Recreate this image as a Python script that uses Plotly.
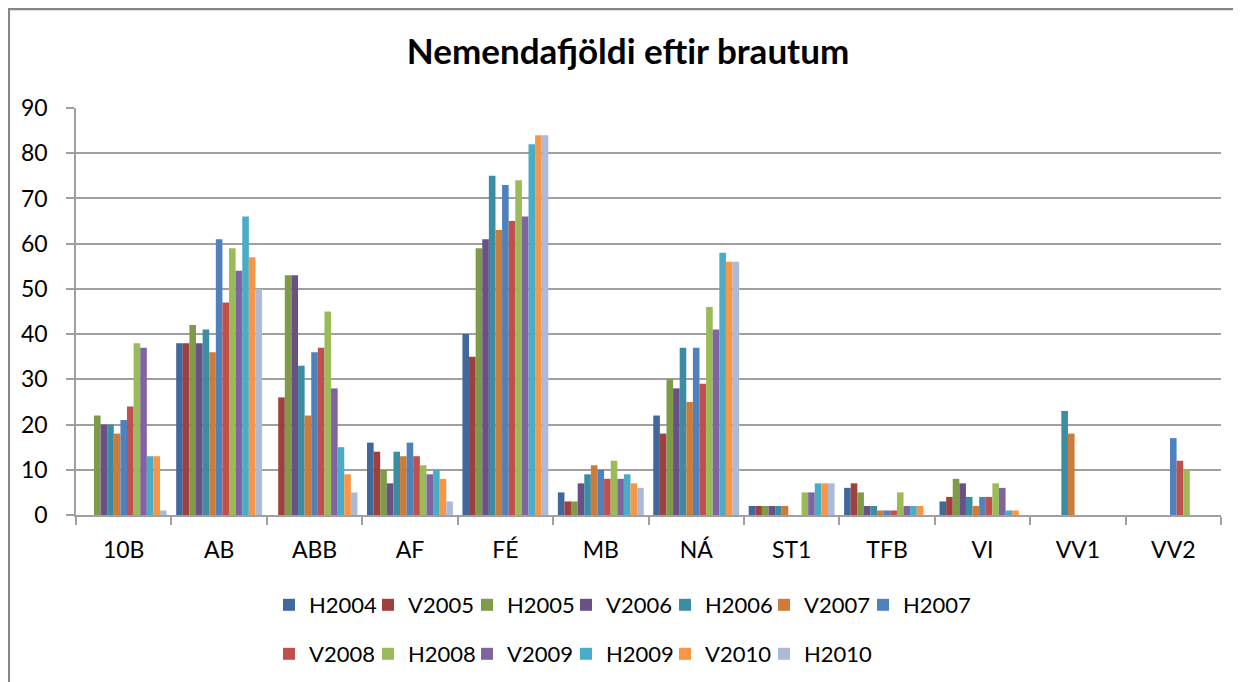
import plotly.graph_objects as go

categories = ["10B", "AB", "ABB", "AF", "FÉ", "MB", "NÁ", "ST1", "TFB", "VI", "VV1", "VV2"]

series_names = ["H2004", "V2005", "H2005", "V2006", "H2006", "V2007", "H2007",
                "V2008", "H2008", "V2009", "H2009", "V2010", "H2010"]

H2004 = [None, 38, None, 16, 40, 5, 22, 2, 6, 3, None, None]
V2005 = [None, 38, 26, 14, 35, 3, 18, 2, 7, 4, None, None]
H2005 = [22, 42, 53, 10, 59, 3, 30, 2, 5, 8, None, None]
V2006 = [20, 38, 53, 7, 61, 7, 28, 2, 2, 7, None, None]
H2006 = [20, 41, 33, 14, 75, 9, 37, 2, 2, 4, 23, None]
V2007 = [18, 36, 22, 13, 63, 11, 25, 2, 1, 2, 18, None]
H2007 = [21, 61, 36, 16, 73, 10, 37, None, 1, 4, None, 17]
V2008 = [24, 47, 37, 13, 65, 8, 29, None, 1, 4, None, 12]
H2008 = [38, 59, 45, 11, 74, 12, 46, 5, 5, 7, None, 10]
V2009 = [37, 54, 28, 9, 66, 8, 41, 5, 2, 6, None, None]
H2009 = [13, 66, 15, 10, 82, 9, 58, 7, 2, 1, None, None]
V2010 = [13, 57, 9, 8, 84, 7, 56, 7, 2, 1, None, None]
H2010 = [1, 50, 5, 3, 84, 6, 56, 7, None, None, None, None]

series_values = [H2004, V2005, H2005, V2006, H2006, V2007, H2007,
                 V2008, H2008, V2009, H2009, V2010, H2010]

colors = ["#41689B", "#9E413E", "#7F9A48", "#695185", "#3C8DA3", "#CC7B38", "#4F81BD",
          "#C0504D", "#9BBB59", "#8064A2", "#4BACC6", "#F79646", "#AABAD7"]

FONT = "Lato"

fig = go.Figure()
for i, (name, vals) in enumerate(zip(series_names, series_values)):
    fig.add_trace(go.Bar(
        x=categories, y=vals, name=name,
        marker=dict(color=colors[i], line=dict(width=0)),
        legend="legend" if i < 7 else "legend2",
    ))

# invisible spacer entries so the last legend label in each row is not clipped
for lg in ["legend", "legend2"]:
    fig.add_trace(go.Scatter(x=[None], y=[None], name=" ", mode="markers",
                             marker=dict(color="rgba(0,0,0,0)", size=1),
                             legend=lg, hoverinfo="skip", showlegend=True))

# page has an 8px body margin; figure is sized to fill the rest of the window
OFF = 8
W, H = 1241 - OFF, 682 - OFF
ml, mt = 76 - OFF, 108 - OFF
plot_right, plot_bottom = 1221 - OFF, 515 - OFF
mr, mb = W - plot_right, H - plot_bottom
pw, ph = W - ml - mr, H - mt - mb

def px_x(x):  # page x -> paper
    return (x - OFF - ml) / pw

def px_y(y):  # page y -> paper
    return (H - mb - (y - OFF)) / ph

fig.update_layout(
    width=W, height=H,
    margin=dict(l=ml, r=mr, t=mt, b=mb, autoexpand=False),
    paper_bgcolor="white", plot_bgcolor="white",
    font=dict(family=FONT, color="#000000", size=22),
    barmode="group", bargap=0.1, bargroupgap=0,
    title=dict(text="<b>Nemendafjöldi eftir brautum</b>",
               font=dict(family=FONT, size=35, color="#000000"),
               x=(628 - OFF) / W, xanchor="center", xref="container",
               y=1 - (52 - OFF) / H, yanchor="middle", yref="container"),
    xaxis=dict(showline=True, linecolor="#A0A0A0", linewidth=1.5,
               ticks="outside", tickson="boundaries", ticklen=8, tickcolor="#A0A0A0",
               tickwidth=1.5, ticklabelstandoff=14,
               tickfont=dict(family=FONT, size=23, color="#000000"),
               showgrid=False),
    yaxis=dict(range=[0, 90], dtick=10, showline=True, linecolor="#A0A0A0", linewidth=1.5,
               ticks="outside", ticklen=8, tickcolor="#A0A0A0", tickwidth=1.5,
               ticklabelstandoff=14,
               showgrid=True, gridcolor="#A0A0A0", gridwidth=1.5, zeroline=False,
               tickfont=dict(family=FONT, size=23, color="#000000")),
    legend=dict(orientation="h", x=px_x(269), xanchor="left",
                y=px_y(605), yanchor="middle",
                entrywidth=54, entrywidthmode="pixels",
                font=dict(family=FONT, size=22, color="#000000"),
                bgcolor="rgba(0,0,0,0)", traceorder="normal"),
    legend2=dict(orientation="h", x=px_x(269), xanchor="left",
                 y=px_y(654), yanchor="middle",
                 entrywidth=54, entrywidthmode="pixels",
                 font=dict(family=FONT, size=22, color="#000000"),
                 bgcolor="rgba(0,0,0,0)", traceorder="normal"),
    shapes=[dict(type="rect", xref="paper", yref="paper",
                 x0=px_x(OFF + 0.8), x1=px_x(1241 + 30), y0=px_y(682 + 30), y1=px_y(OFF + 1),
                 line=dict(color="#868686", width=2.5), layer="below")],
)

fig.write_html("out.html")
